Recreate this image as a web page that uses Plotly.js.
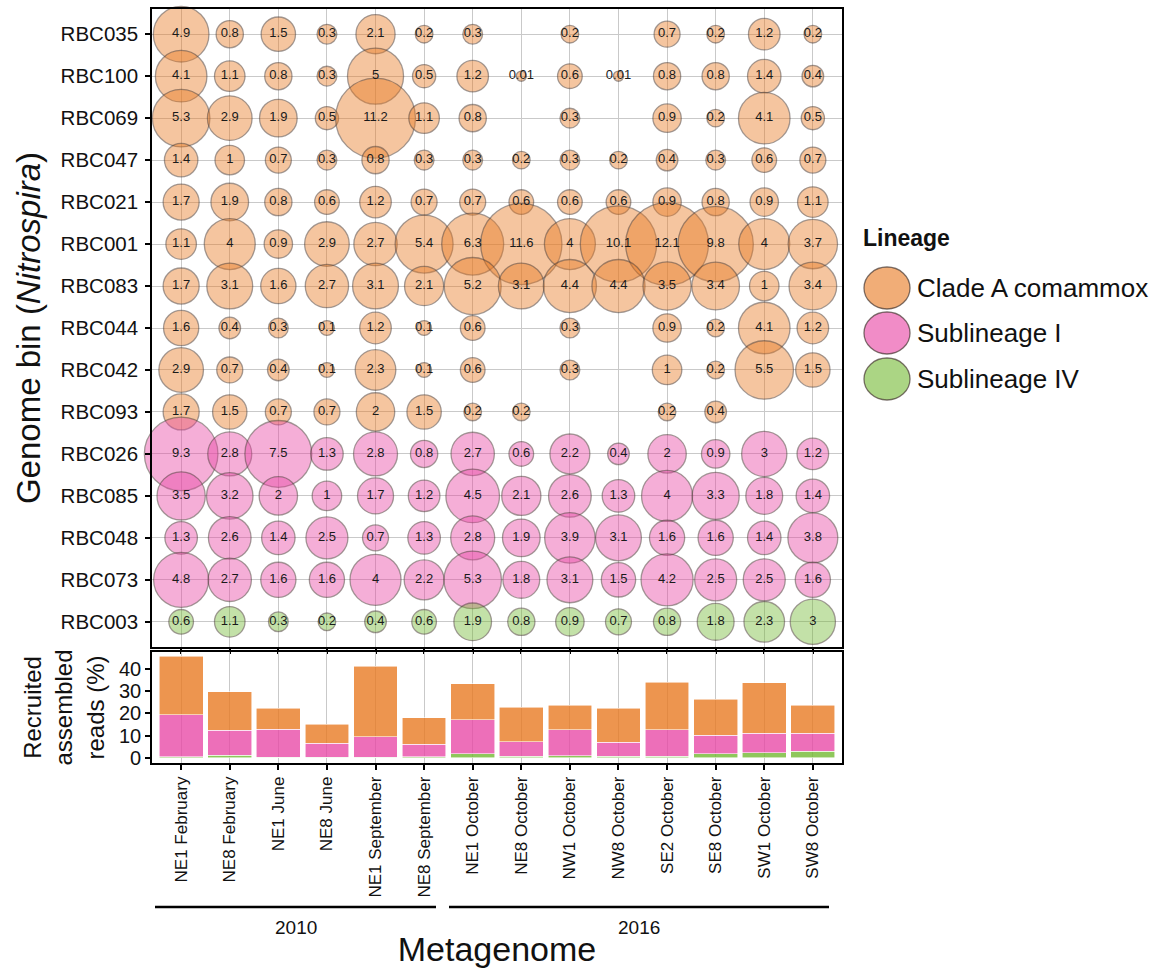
<!DOCTYPE html>
<html>
<head>
<meta charset="utf-8">
<script src="https://cdn.plot.ly/plotly-3.0.1.min.js"></script>
<style>html,body{margin:0;padding:0;background:#fff;}#chart{width:1162px;height:968px;}</style>
</head>
<body>
<div id="chart"></div>
<script>
// ---------------- DATA ----------------
const metagenomes = ["NE1 February","NE8 February","NE1 June","NE8 June","NE1 September","NE8 September",
  "NE1 October","NE8 October","NW1 October","NW8 October","SE2 October","SE8 October","SW1 October","SW8 October"];
const years = ["2010","2016"];

const genomeBins = ["RBC035","RBC100","RBC069","RBC047","RBC021","RBC001","RBC083","RBC044","RBC042","RBC093",
  "RBC026","RBC085","RBC048","RBC073","RBC003"];

const lineages = ["Clade A comammox","Sublineage I","Sublineage IV"];
const binLineage = ["Clade A comammox","Clade A comammox","Clade A comammox","Clade A comammox","Clade A comammox",
  "Clade A comammox","Clade A comammox","Clade A comammox","Clade A comammox","Clade A comammox",
  "Sublineage I","Sublineage I","Sublineage I","Sublineage I","Sublineage IV"];

// relative abundance (%) per genome bin, one value per metagenome (null = not detected)
const RBC035 = [4.9,0.8,1.5,0.3,2.1,0.2,0.3,null,0.2,null,0.7,0.2,1.2,0.2];
const RBC100 = [4.1,1.1,0.8,0.3,5,0.5,1.2,0.01,0.6,0.01,0.8,0.8,1.4,0.4];
const RBC069 = [5.3,2.9,1.9,0.5,11.2,1.1,0.8,null,0.3,null,0.9,0.2,4.1,0.5];
const RBC047 = [1.4,1,0.7,0.3,0.8,0.3,0.3,0.2,0.3,0.2,0.4,0.3,0.6,0.7];
const RBC021 = [1.7,1.9,0.8,0.6,1.2,0.7,0.7,0.6,0.6,0.6,0.9,0.8,0.9,1.1];
const RBC001 = [1.1,4,0.9,2.9,2.7,5.4,6.3,11.6,4,10.1,12.1,9.8,4,3.7];
const RBC083 = [1.7,3.1,1.6,2.7,3.1,2.1,5.2,3.1,4.4,4.4,3.5,3.4,1,3.4];
const RBC044 = [1.6,0.4,0.3,0.1,1.2,0.1,0.6,null,0.3,null,0.9,0.2,4.1,1.2];
const RBC042 = [2.9,0.7,0.4,0.1,2.3,0.1,0.6,null,0.3,null,1,0.2,5.5,1.5];
const RBC093 = [1.7,1.5,0.7,0.7,2,1.5,0.2,0.2,null,null,0.2,0.4,null,null];
const RBC026 = [9.3,2.8,7.5,1.3,2.8,0.8,2.7,0.6,2.2,0.4,2,0.9,3,1.2];
const RBC085 = [3.5,3.2,2,1,1.7,1.2,4.5,2.1,2.6,1.3,4,3.3,1.8,1.4];
const RBC048 = [1.3,2.6,1.4,2.5,0.7,1.3,2.8,1.9,3.9,3.1,1.6,1.6,1.4,3.8];
const RBC073 = [4.8,2.7,1.6,1.6,4,2.2,5.3,1.8,3.1,1.5,4.2,2.5,2.5,1.6];
const RBC003 = [0.6,1.1,0.3,0.2,0.4,0.6,1.9,0.8,0.9,0.7,0.8,1.8,2.3,3];

const binValues = [RBC035,RBC100,RBC069,RBC047,RBC021,RBC001,RBC083,RBC044,RBC042,RBC093,RBC026,RBC085,RBC048,RBC073,RBC003];

// ---------------- STYLE ----------------
const FONT = "Liberation Sans, Arial, Helvetica, sans-serif";
const bubbleFill = {"Clade A comammox":"rgba(232,122,35,0.62)","Sublineage I":"rgba(232,70,165,0.62)","Sublineage IV":"rgba(115,185,50,0.6)"};
const barFill = {"Clade A comammox":"rgba(232,122,35,0.8)","Sublineage I":"rgba(232,70,165,0.78)","Sublineage IV":"rgba(115,185,50,0.8)"};
const outline = "rgba(70,55,50,0.7)";
function bubbleDiameter(v){ return 8 + 21.5*Math.sqrt(v); }

// ---------------- TRACES ----------------
const traces = [];
lineages.forEach(lin => {
  const xs=[], ys=[], ss=[], ts=[];
  genomeBins.forEach((b,i) => {
    if (binLineage[i] !== lin) return;
    binValues[i].forEach((v,j) => {
      if (v === null) return;
      xs.push(metagenomes[j]); ys.push(b); ss.push(bubbleDiameter(v)); ts.push(String(v));
    });
  });
  traces.push({
    type:"scatter", mode:"markers+text", name:lin, x:xs, y:ys, text:ts,
    textposition:"middle center", textfont:{family:FONT,size:13,color:"#1a1a1a"},
    marker:{size:ss, sizemode:"diameter", color:bubbleFill[lin], line:{color:outline,width:1.3}},
    xaxis:"x", yaxis:"y", showlegend:false, cliponaxis:false, hoverinfo:"x+y+text"
  });
});

// stacked bars: total recruited reads per lineage (sum of bins of that lineage)
const barOrder = ["Sublineage IV","Sublineage I","Clade A comammox"];
barOrder.forEach(lin => {
  const totals = metagenomes.map((m,j) => {
    let s = 0;
    genomeBins.forEach((b,i) => { if (binLineage[i]===lin && binValues[i][j]!==null) s += binValues[i][j]; });
    return Math.round(s*100)/100;
  });
  traces.push({
    type:"bar", name:lin, x:metagenomes, y:totals, xaxis:"x2", yaxis:"y2",
    marker:{color:barFill[lin], line:{color:"rgba(255,255,255,0.7)", width:0.8}},
    showlegend:false
  });
});

// ---------------- LAYOUT ----------------
const W=1162, H=968, L=152, R=320, T=9, B=205;
const pw = W-L-R, ph = H-T-B;
const px = x => (x-L)/pw;
const py = y => (H-B-y)/ph;

const axisCommon = {
  type:"category", categoryorder:"array", showline:true, mirror:true, linecolor:"#000", linewidth:1.6,
  ticks:"outside", ticklen:5, tickwidth:1.6, tickcolor:"#000", showgrid:true, gridcolor:"#c9c9c9", gridwidth:1,
  zeroline:false, fixedrange:true
};

const legendRows = [
  {lab:"Clade A comammox", y:288},
  {lab:"Sublineage I", y:333},
  {lab:"Sublineage IV", y:379}
];

const shapes = [];
const annotations = [];
legendRows.forEach(r => {
  shapes.push({type:"circle", xref:"paper", yref:"paper", xsizemode:"pixel", ysizemode:"pixel",
    xanchor:px(887), yanchor:py(r.y), x0:-23, x1:23, y0:-21, y1:21,
    fillcolor:bubbleFill[r.lab], line:{color:outline,width:1.3}});
  annotations.push({xref:"paper", yref:"paper", x:px(915), y:py(r.y), xanchor:"left", yanchor:"middle",
    text:r.lab, showarrow:false, font:{family:FONT,size:26,color:"#111"}});
});
annotations.push({xref:"paper", yref:"paper", x:px(861), y:py(238), xanchor:"left", yanchor:"middle",
  text:"<b>Lineage</b>", showarrow:false, font:{family:FONT,size:23,color:"#111"}});

// year group brackets
const groups = [{lab:years[0], x0:155, x1:436}, {lab:years[1], x0:449, x1:829}];
groups.forEach(g => {
  shapes.push({type:"line", xref:"paper", yref:"paper", x0:px(g.x0), x1:px(g.x1), y0:py(907), y1:py(907),
    line:{color:"#000", width:2.5}});
  annotations.push({xref:"paper", yref:"paper", x:px((g.x0+g.x1)/2), y:py(927), xanchor:"center", yanchor:"middle",
    text:g.lab, showarrow:false, font:{family:FONT,size:19,color:"#111"}});
});

const layout = {
  width:W, height:H, margin:{l:L, r:R, t:T, b:B},
  paper_bgcolor:"#fff", plot_bgcolor:"#fff",
  font:{family:FONT, color:"#111"},
  showlegend:false, barmode:"stack", bargap:0.1,
  xaxis: Object.assign({}, axisCommon, {domain:[0,1], anchor:"y", categoryarray:metagenomes, range:[-0.6,13.6],
    showticklabels:false}),
  yaxis: Object.assign({}, axisCommon, {domain:[py(647),1], anchor:"x", categoryarray:genomeBins, range:[14.6,-0.6],
    tickfont:{family:FONT,size:20.5,color:"#111"}, ticklabelstandoff:3,
    title:{text:"Genome bin (<i>Nitrospira</i>)", font:{family:FONT,size:33,color:"#111"}, standoff:10}}),
  xaxis2: Object.assign({}, axisCommon, {domain:[0,1], anchor:"y2", categoryarray:metagenomes, range:[-0.6,13.6],
    tickangle:-90, tickfont:{family:FONT,size:17,color:"#111"},
    title:{text:"Metagenome", font:{family:FONT,size:34,color:"#111"}, standoff:42}}),
  yaxis2: {domain:[0,py(652)], anchor:"x2", range:[-2.3,47.7], tickvals:[0,10,20,30,40],
    showline:true, mirror:true, linecolor:"#000", linewidth:1.6, ticks:"outside", ticklen:5, tickwidth:1.6,
    tickcolor:"#000", showgrid:false, zeroline:false, fixedrange:true,
    tickfont:{family:FONT,size:20,color:"#111"},
    title:{text:"Recruited<br>assembled<br>reads (%)", font:{family:FONT,size:24,color:"#111"}, standoff:8}},
  shapes:shapes, annotations:annotations
};

Plotly.newPlot("chart", traces, layout, {displayModeBar:false});
</script>
</body>
</html>
